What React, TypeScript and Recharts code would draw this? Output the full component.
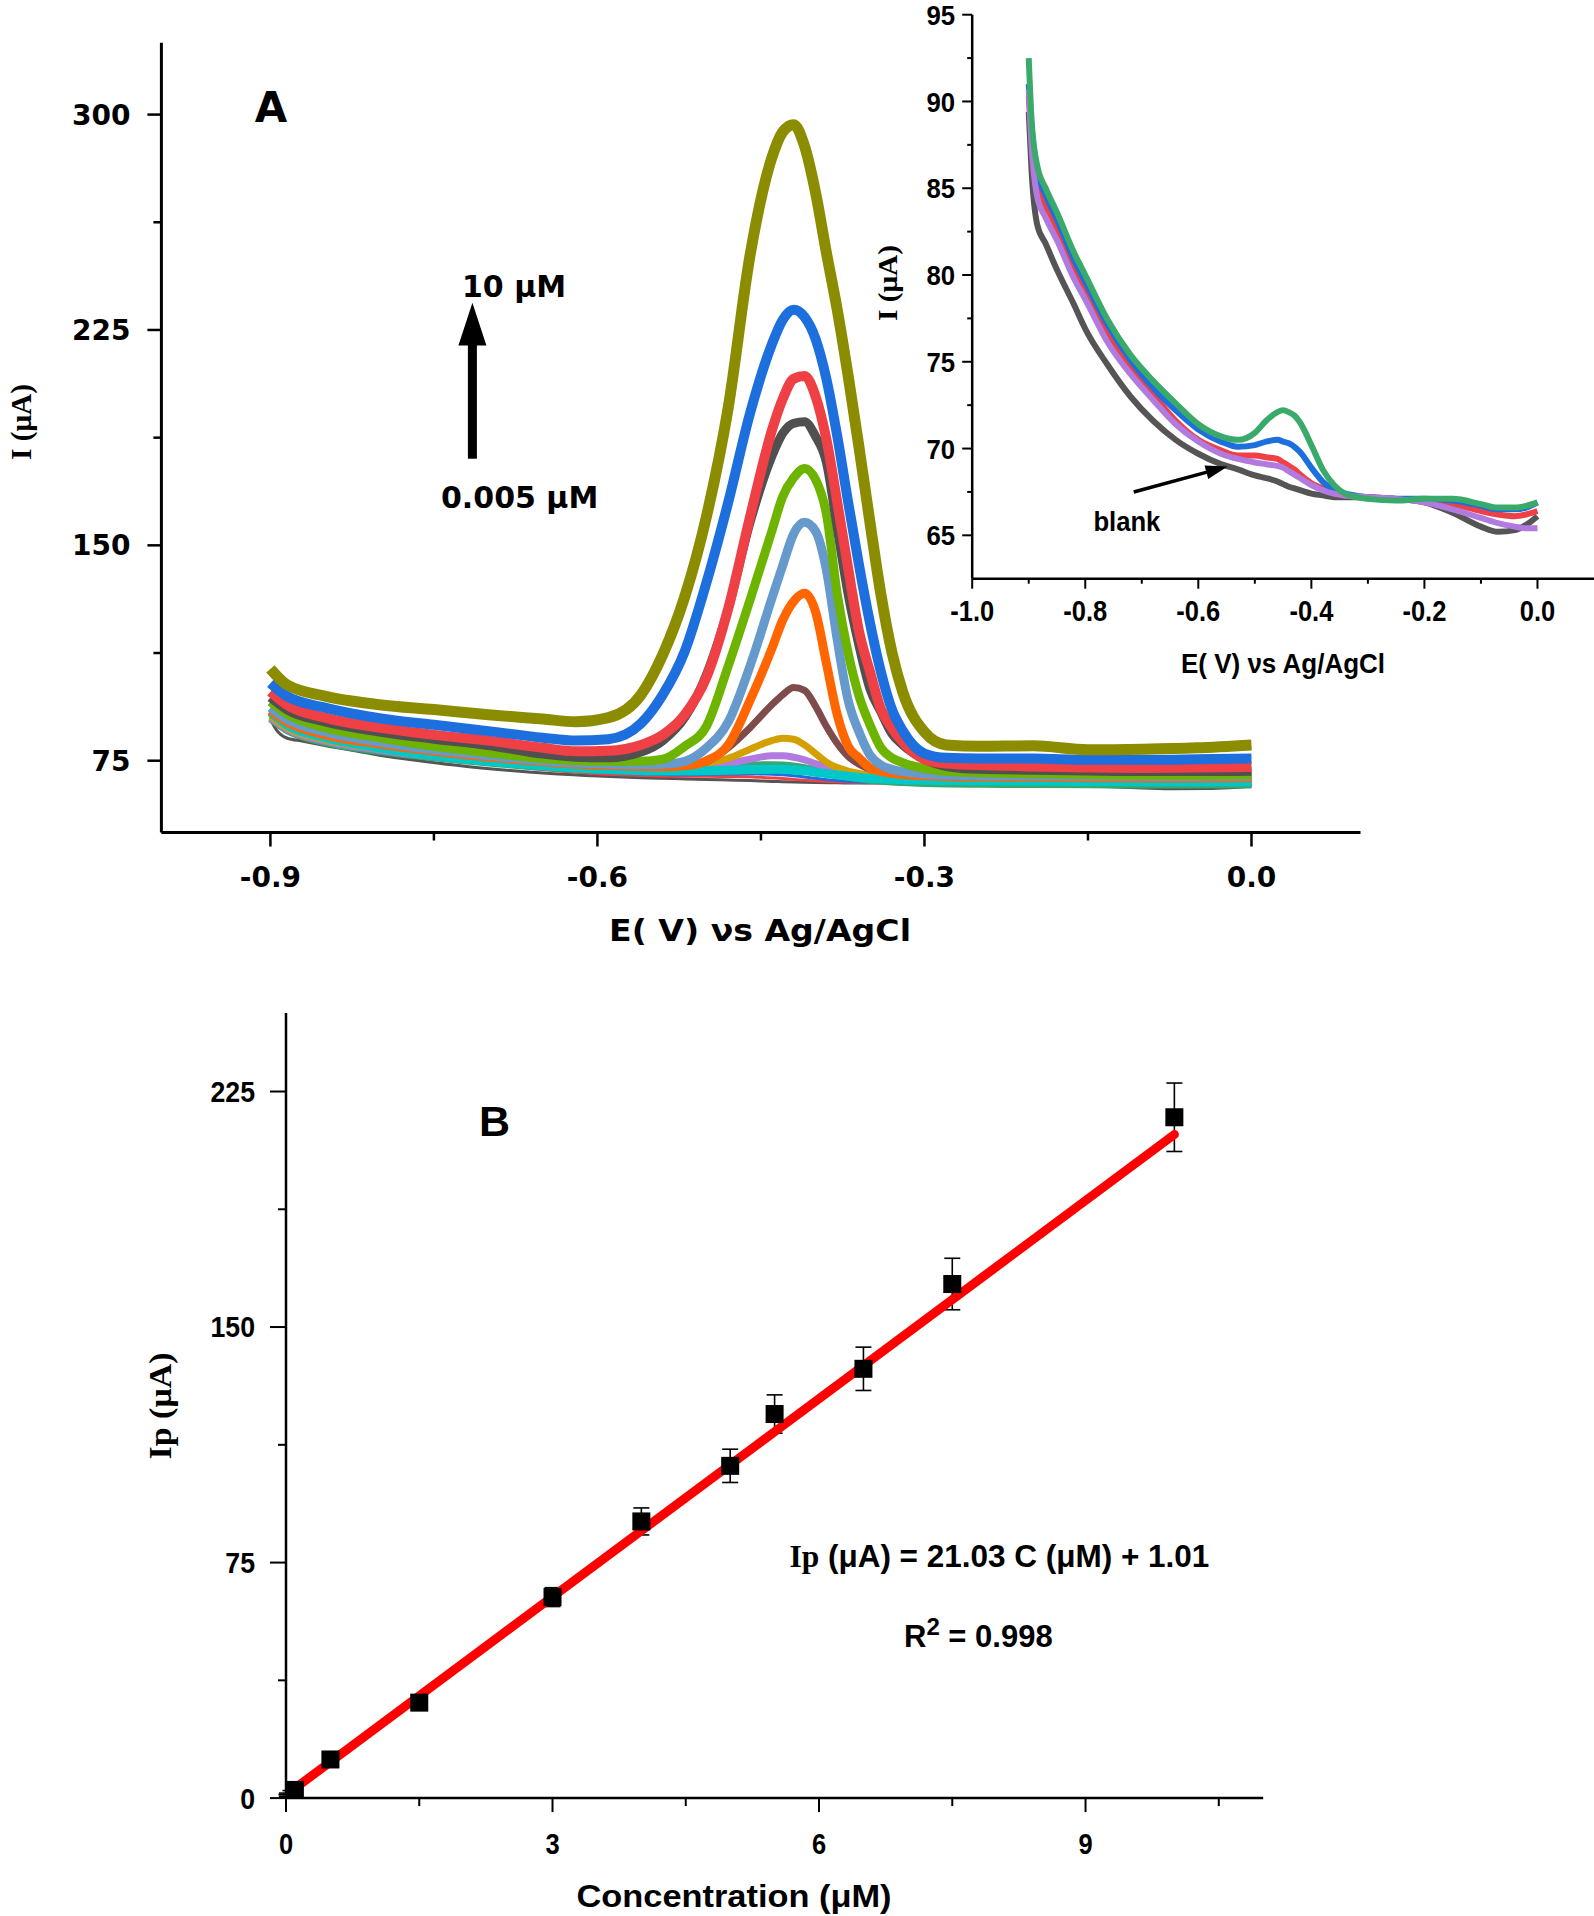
import React from "react";
import {
  LineChart,
  Line,
  XAxis,
  YAxis,
  ComposedChart,
  Scatter,
  ErrorBar,
} from "recharts";

// ---- panel A: main voltammograms (potential grid shared by the thick curves)
const E = [
  -0.9, -0.885, -0.85, -0.8, -0.75, -0.7, -0.65, -0.62, -0.59, -0.56, -0.54,
  -0.52, -0.5, -0.48, -0.46, -0.44, -0.43, -0.42, -0.41, -0.4, -0.39, -0.38,
  -0.37, -0.36, -0.35, -0.34, -0.33, -0.32, -0.3, -0.28, -0.25, -0.2, -0.15,
  -0.1, -0.05, 0,
];

const OLIVE = [107, 101.5, 97.5, 94.5, 92.8, 91, 89.5, 88.6, 90, 98, 112, 132, 160, 198, 251, 285, 294, 296.5, 289, 273, 252, 232, 209, 184, 158, 133, 113, 99, 85, 80.5, 80, 80.2, 78.8, 79, 79.5, 80.5];
const BLUE = [102, 97.5, 93.5, 89.8, 87.5, 85.3, 83, 82, 82.5, 88, 98, 113, 137, 165, 196, 220, 228.5, 232, 229.5, 222, 208, 188, 165, 143, 123, 106, 93, 85.5, 77.5, 76, 75.8, 75.8, 75.3, 75.3, 75.5, 75.8];
const RED = [99, 94.5, 90, 86.5, 84, 82, 79.5, 78.3, 78.5, 80.5, 84, 91, 104, 128, 160, 190, 201, 208, 209, 202, 187, 165, 142, 120, 106, 93, 86.5, 81.5, 75.5, 74, 73.5, 73, 72.6, 72.5, 72.6, 72.8];
const GRAY = [97, 92.8, 88.5, 85, 82.5, 80.3, 77.3, 76.2, 76, 78, 82, 90, 105, 128, 158, 181, 189, 192.5, 193, 188, 179, 156, 133, 115, 100, 92, 84.5, 80.5, 75.5, 73, 72, 71.7, 71.4, 71.2, 71.2, 71.3];
const GREEN = [95.5, 91.3, 86.5, 83, 80, 77.8, 75.8, 75.1, 74.8, 74.8, 75.5, 80, 87, 108, 131, 155, 167, 173.5, 176.8, 173, 161, 133, 112.5, 97.5, 87.5, 79.5, 76, 74.3, 72.3, 71.3, 70.8, 70.5, 70.2, 70, 70, 70.2];
const STEEL = [93.5, 89.5, 85, 81.5, 78.8, 76.8, 75, 74.2, 73.8, 73.6, 73.8, 74.8, 79.5, 88.5, 108, 131.5, 143, 154, 158, 155, 141.5, 117, 96, 85, 77, 73.5, 72, 71.2, 70.4, 70, 69.8, 69.7, 69.6, 69.5, 69.5, 69.6];
const ORANGE = [92.5, 88.5, 84, 80.8, 78.3, 76.3, 74.6, 73.8, 73.3, 73, 72.9, 73.2, 75, 80.5, 96, 114, 124, 130.5, 133.3, 127, 109, 91, 80, 76, 72.5, 71.3, 70.6, 70.2, 69.8, 69.5, 69.3, 69.2, 69.1, 69, 69, 69.1];
const BROWN = [91.5, 87.5, 83, 79.8, 77.4, 75.4, 73.8, 73, 72.5, 72.2, 72.2, 72.8, 74.5, 79.5, 86.5, 94.5, 98, 100.5, 99.5, 94, 87, 81, 76.5, 73.8, 72, 71, 70.3, 69.8, 69.2, 68.9, 68.7, 68.6, 68.5, 68.5, 68.5, 68.6];
const GOLD = [90.5, 86.5, 82.3, 79.2, 76.9, 75, 73.5, 72.8, 72.4, 72.4, 72.6, 73.2, 74.2, 75.8, 79, 82, 82.8, 82.5, 80.5, 77.5, 74.5, 72.6, 71.4, 70.6, 70, 69.6, 69.3, 69, 68.7, 68.5, 68.3, 68.2, 68.1, 68.1, 68.1, 68.2];
const LAVENDER = [90, 86, 81.8, 78.7, 76.4, 74.6, 73.1, 72.4, 72, 71.9, 72, 72.4, 73, 74, 75.5, 76.7, 76.7, 76.2, 75.3, 74, 72.8, 71.6, 70.7, 70, 69.5, 69.1, 68.8, 68.6, 68.3, 68.1, 67.9, 67.8, 67.7, 67.7, 67.7, 67.8];
const TEAL = [89.5, 85.5, 81.3, 78.2, 76, 74.2, 72.7, 72, 71.6, 71.5, 71.5, 71.8, 72.3, 72.9, 73.4, 73.6, 73.5, 73.2, 72.6, 71.8, 70.9, 70, 69.3, 68.7, 68.2, 67.9, 67.6, 67.4, 67.1, 66.9, 66.8, 66.7, 66.6, 66.5, 66.5, 66.5];
const CYAN = [92, 87.5, 83, 79.5, 76.8, 74.8, 73.3, 72.5, 71.9, 71.5, 71.4, 71.4, 71.5, 71.7, 71.9, 72, 72, 71.8, 71.5, 71, 70.5, 70, 69.6, 69.2, 68.9, 68.7, 68.5, 68.4, 68.2, 68.1, 68, 67.9, 67.8, 67.7, 67.7, 67.7];

// ---- inset: lowest concentrations
const EI = [
  -0.9, -0.895, -0.885, -0.87, -0.85, -0.82, -0.8, -0.76, -0.72, -0.68, -0.64,
  -0.6, -0.56, -0.53, -0.5, -0.48, -0.46, -0.45, -0.44, -0.43, -0.42, -0.4,
  -0.38, -0.36, -0.34, -0.3, -0.25, -0.2, -0.15, -0.1, -0.07, -0.04, -0.02, 0,
];
const IN_GREEN = [92.5, 89, 86.3, 85, 83.6, 81.3, 80, 77.4, 75.4, 73.9, 72.6, 71.4, 70.7, 70.5, 70.9, 71.6, 72.1, 72.2, 72.1, 71.9, 71.5, 70.2, 68.8, 67.9, 67.4, 67.1, 67, 67.1, 67.1, 66.8, 66.6, 66.6, 66.7, 66.9];
const IN_BLUE = [91, 88.5, 86, 84.6, 83.2, 80.9, 79.6, 77.1, 75.1, 73.5, 72.2, 71.1, 70.4, 70.1, 70.2, 70.4, 70.5, 70.4, 70.3, 70.1, 69.8, 68.9, 68.1, 67.6, 67.4, 67.2, 67.1, 67.1, 67, 66.7, 66.5, 66.5, 66.6, 66.9];
const IN_RED = [90.3, 88, 85.5, 84, 82.6, 80.3, 79.1, 76.6, 74.6, 73.1, 71.6, 70.5, 69.9, 69.6, 69.6, 69.5, 69.4, 69.2, 69, 68.8, 68.5, 68, 67.7, 67.4, 67.3, 67.2, 67.1, 67, 66.8, 66.4, 66.2, 66.1, 66.2, 66.4];
const IN_PURPLE = [90.7, 87.5, 84.5, 83.3, 82, 79.8, 78.6, 76.1, 74.3, 72.8, 71.4, 70.4, 69.7, 69.4, 69.2, 69.1, 69, 68.9, 68.7, 68.5, 68.3, 67.9, 67.6, 67.4, 67.3, 67.2, 67.1, 66.9, 66.5, 66, 65.7, 65.5, 65.4, 65.4];
const IN_BLANK = [89.4, 86, 82.9, 81.8, 80.3, 78.3, 76.9, 74.8, 73, 71.6, 70.5, 69.7, 69.1, 68.8, 68.45, 68.3, 68.1, 67.95, 67.8, 67.7, 67.6, 67.4, 67.3, 67.2, 67.2, 67.2, 67.1, 66.9, 66.3, 65.5, 65.2, 65.3, 65.6, 66.1];

// ---- panel B: calibration
const CONC = [0.005, 0.01, 0.05, 0.1, 0.5, 1.5, 3, 4, 5, 5.5, 6.5, 7.5, 10];
const IP = [0.6, 1.1, 1.8, 2.6, 12.3, 30.4, 64, 88.1, 105.8, 122.3, 136.7, 163.7, 216.8];
const IP_ERR = [0.5, 0.5, 0.6, 0.6, 1.2, 1.5, 3, 4.3, 5.3, 6.1, 6.9, 8.2, 10.9];
const FIT_C = [0, 10];
const FIT_IP = [1.01, 211.31];

// ---- ticks
const A_X_TICKS = [-0.9, -0.75, -0.6, -0.45, -0.3, -0.15, 0];
const A_X_MAJOR = [-0.9, -0.6, -0.3, 0];
const A_Y_TICKS = [75, 112.5, 150, 187.5, 225, 262.5, 300];
const A_Y_MAJOR = [75, 150, 225, 300];
const IN_X_TICKS = [-1, -0.9, -0.8, -0.7, -0.6, -0.5, -0.4, -0.3, -0.2, -0.1, 0];
const IN_X_MAJOR = [-1, -0.8, -0.6, -0.4, -0.2, 0];
const IN_Y_TICKS = [65, 67.5, 70, 72.5, 75, 77.5, 80, 82.5, 85, 87.5, 90, 92.5, 95];
const IN_Y_MAJOR = [65, 70, 75, 80, 85, 90, 95];
const B_X_TICKS = [0, 1.5, 3, 4.5, 6, 7.5, 9, 10.5];
const B_X_MAJOR = [0, 3, 6, 9];
const B_Y_TICKS = [0, 37.5, 75, 112.5, 150, 187.5, 225];
const B_Y_MAJOR = [0, 75, 150, 225];

const WIDE = "'DejaVu Sans', Verdana, sans-serif";
const NARROW = "'Liberation Sans Narrow', 'Arial Narrow', 'Liberation Sans', Arial, sans-serif";
const ARIAL = "'Liberation Sans', Arial, sans-serif";
const SERIF = "'Liberation Serif', 'Times New Roman', serif";

const pts = (xs: number[], ys: number[]) => xs.map((x, i) => ({ x, y: ys[i] }));

const MAIN_SERIES = [
  { data: pts(EI, IN_BLANK), color: "#555555", w: 3 },
  { data: pts(EI, IN_RED), color: "#ef4046", w: 3 },
  { data: pts(EI, IN_BLUE), color: "#1c6fdc", w: 3 },
  { data: pts(E, TEAL), color: "#33aa70", w: 7 },
  { data: pts(E, LAVENDER), color: "#b07adf", w: 7 },
  { data: pts(E, GOLD), color: "#d4a000", w: 7 },
  { data: pts(E, BROWN), color: "#7f4c4c", w: 7 },
  { data: pts(E, CYAN), color: "#00c8c8", w: 9 },
  { data: pts(E, ORANGE), color: "#ff6600", w: 9 },
  { data: pts(E, STEEL), color: "#6699cc", w: 9 },
  { data: pts(E, GREEN), color: "#6cb400", w: 9 },
  { data: pts(E, GRAY), color: "#505050", w: 9 },
  { data: pts(E, RED), color: "#ef4046", w: 10 },
  { data: pts(E, BLUE), color: "#1c6fdc", w: 10 },
  { data: pts(E, OLIVE), color: "#8c8c00", w: 11 },
];

const INSET_SERIES = [
  { data: pts(EI, IN_BLANK), color: "#555555" },
  { data: pts(EI, IN_RED), color: "#ef4046" },
  { data: pts(EI, IN_BLUE), color: "#1c6fdc" },
  { data: pts(EI, IN_PURPLE), color: "#b07adf" },
  { data: pts(EI, IN_GREEN), color: "#3aaa6a" },
];

// rough Arial advance widths, used to squeeze labels into a narrow face
const arialWidth = (s: string) =>
  s.split("").reduce((a, ch) => a + (ch === "." ? 0.278 : ch === "-" ? 0.333 : 0.556), 0);

type TickCfg = {
  side: "bottom" | "left";
  majors: number[];
  majorLen: number;
  minorLen: number;
  gap: number;
  size: number;
  font: string;
  digits: number;
  sw: number;
  squeeze?: number;
};

const tickFor = (c: TickCfg) => (props: any) => {
  const { x, y, payload } = props;
  const v = Number(payload.value);
  const major = c.majors.some((m) => Math.abs(m - v) < 1e-9);
  const len = major ? c.majorLen : c.minorLen;
  const label = major ? v.toFixed(c.digits) : "";
  const txt: any = {
    fontSize: c.size,
    fontFamily: c.font,
    fontWeight: "bold",
    fill: "#000",
  };
  if (c.squeeze && label) {
    txt.textLength = arialWidth(label) * c.size * c.squeeze;
    txt.lengthAdjust = "spacingAndGlyphs";
  }
  if (c.side === "bottom") {
    return (
      <g>
        <line x1={x} y1={y} x2={x} y2={y + len} stroke="#000" strokeWidth={c.sw} />
        {label && (
          <text x={x} y={y + c.gap} textAnchor="middle" {...txt}>
            {label}
          </text>
        )}
      </g>
    );
  }
  return (
    <g>
      <line x1={x - len} y1={y} x2={x} y2={y} stroke="#000" strokeWidth={c.sw} />
      {label && (
        <text x={x - c.gap} y={y + c.size * 0.36} textAnchor="end" {...txt}>
          {label}
        </text>
      )}
    </g>
  );
};

function PanelA() {
  return (
    <LineChart width={1400} height={900} margin={{ top: 42.8, right: 39.5, bottom: 17.5, left: 61.4 }}>
      <XAxis
        type="number"
        dataKey="x"
        domain={[-1, 0.1]}
        allowDataOverflow
        ticks={A_X_TICKS}
        interval={0}
        height={50}
        tickSize={0}
        tickMargin={0}
        tickLine={false}
        axisLine={{ stroke: "#000", strokeWidth: 3 }}
        tick={tickFor({ side: "bottom", majors: A_X_MAJOR, majorLen: 14, minorLen: 8, gap: 54, size: 28, font: WIDE, digits: 1, sw: 2.5 })}
      />
      <YAxis
        type="number"
        domain={[50, 325]}
        allowDataOverflow
        ticks={A_Y_TICKS}
        interval={0}
        width={100}
        tickSize={0}
        tickMargin={0}
        tickLine={false}
        axisLine={{ stroke: "#000", strokeWidth: 3 }}
        tick={tickFor({ side: "left", majors: A_Y_MAJOR, majorLen: 14, minorLen: 8, gap: 31, size: 28, font: WIDE, digits: 0, sw: 2.5 })}
      />
      {MAIN_SERIES.map((s, i) => (
        <Line
          key={`main-${i}`}
          data={s.data}
          dataKey="y"
          type="monotone"
          stroke={s.color}
          strokeWidth={s.w}
          dot={false}
          activeDot={false}
          isAnimationActive={false}
        />
      ))}
    </LineChart>
  );
}

function Inset() {
  return (
    <LineChart width={722} height={700} margin={{ top: 14.7, right: 0, bottom: 81.3, left: 40.2 }}>
      <XAxis
        type="number"
        dataKey="x"
        domain={[-1, 0.1]}
        allowDataOverflow
        ticks={IN_X_TICKS}
        interval={0}
        height={40}
        tickSize={0}
        tickMargin={0}
        tickLine={false}
        axisLine={{ stroke: "#000", strokeWidth: 2.5 }}
        tick={tickFor({ side: "bottom", majors: IN_X_MAJOR, majorLen: 10, minorLen: 5, gap: 42, size: 30, font: NARROW, digits: 1, sw: 2, squeeze: 0.85 })}
      />
      <YAxis
        type="number"
        domain={[62.5, 95]}
        allowDataOverflow
        ticks={IN_Y_TICKS}
        interval={0}
        width={60}
        tickSize={0}
        tickMargin={0}
        tickLine={false}
        axisLine={{ stroke: "#000", strokeWidth: 2.5 }}
        tick={tickFor({ side: "left", majors: IN_Y_MAJOR, majorLen: 10, minorLen: 5, gap: 17, size: 28, font: NARROW, digits: 0, sw: 2, squeeze: 0.92 })}
      />
      {INSET_SERIES.map((s, i) => (
        <Line
          key={`in-${i}`}
          data={s.data}
          dataKey="y"
          type="monotone"
          stroke={s.color}
          strokeWidth={6}
          dot={false}
          activeDot={false}
          isAnimationActive={false}
        />
      ))}
    </LineChart>
  );
}

const calib = CONC.map((c, i) => ({ x: c, y: IP[i], err: IP_ERR[i] }));
const fit = pts(FIT_C, FIT_IP);

function PanelB() {
  return (
    <ComposedChart width={1300} height={936} margin={{ top: 33, right: 36.8, bottom: 37.9, left: 186 }}>
      <XAxis
        type="number"
        dataKey="x"
        domain={[0, 11]}
        allowDataOverflow
        ticks={B_X_TICKS}
        interval={0}
        height={80}
        tickSize={0}
        tickMargin={0}
        tickLine={false}
        axisLine={{ stroke: "#000", strokeWidth: 2.5 }}
        tick={tickFor({ side: "bottom", majors: B_X_MAJOR, majorLen: 14, minorLen: 8, gap: 55.5, size: 29, font: NARROW, digits: 0, sw: 2, squeeze: 0.88 })}
      />
      <YAxis
        type="number"
        dataKey="y"
        domain={[0, 250]}
        allowDataOverflow
        ticks={B_Y_TICKS}
        interval={0}
        width={100}
        tickSize={0}
        tickMargin={0}
        tickLine={false}
        axisLine={{ stroke: "#000", strokeWidth: 2.5 }}
        tick={tickFor({ side: "left", majors: B_Y_MAJOR, majorLen: 16, minorLen: 8, gap: 31, size: 29, font: NARROW, digits: 0, sw: 2, squeeze: 0.92 })}
      />
      <Scatter
        data={calib}
        dataKey="y"
        isAnimationActive={false}
        shape={(p: any) => <rect x={p.cx - 9} y={p.cy - 9} width={18} height={18} fill="#000" />}
      >
        <ErrorBar dataKey="err" direction="y" width={8} stroke="#000" strokeWidth={1.6} />
      </Scatter>
      <Line
        data={fit}
        dataKey="y"
        type="linear"
        stroke="#ff0000"
        strokeWidth={9}
        strokeLinecap="round"
        dot={false}
        activeDot={false}
        isAnimationActive={false}
      />
    </ComposedChart>
  );
}

function Overlay() {
  const bold = { fontWeight: "bold" as const, fill: "#000" };
  return (
    <svg width={1594} height={1916} style={{ position: "absolute", left: 0, top: 0, pointerEvents: "none" }}>
      {/* panel A annotations */}
      <text x={271} y={122} textAnchor="middle" fontFamily={WIDE} fontSize={42} {...bold}>A</text>
      <rect x={467.9} y={340} width={9} height={118.7} fill="#000" />
      <polygon points="472.4,302.7 458.4,345.6 486.4,345.6" fill="#000" />
      <text x={462} y={297} fontFamily={WIDE} fontSize={30} {...bold}>10 μM</text>
      <text x={441} y={507.6} fontFamily={WIDE} fontSize={30} {...bold}>0.005 μM</text>
      <text x={760} y={940.7} textAnchor="middle" fontFamily={WIDE} fontSize={30} textLength={302} lengthAdjust="spacingAndGlyphs" {...bold}>
        E( V) νs Ag/AgCl
      </text>
      <text x={31} y={422} transform="rotate(-90 31 422)" textAnchor="middle" fontFamily={SERIF} fontSize={29} textLength={76} lengthAdjust="spacingAndGlyphs" {...bold}>
        I (μA)
      </text>

      {/* inset annotations */}
      <text x={1283} y={673} textAnchor="middle" fontFamily={NARROW} fontSize={28} textLength={204} lengthAdjust="spacingAndGlyphs" {...bold}>
        E( V) νs Ag/AgCl
      </text>
      <text x={897} y={283} transform="rotate(-90 897 283)" textAnchor="middle" fontFamily={SERIF} fontSize={27} textLength={76} lengthAdjust="spacingAndGlyphs" {...bold}>
        I (μA)
      </text>
      <text x={1093.4} y={531} fontFamily={NARROW} fontSize={28} textLength={67} lengthAdjust="spacingAndGlyphs" {...bold}>
        blank
      </text>
      <line x1={1133.7} y1={492} x2={1207} y2={472.1} stroke="#000" strokeWidth={3.5} />
      <polygon points="1227.6,466.5 1208.2,479.1 1204.6,465.5" fill="#000" />

      {/* panel B annotations */}
      <text x={494.6} y={1136} textAnchor="middle" fontFamily={ARIAL} fontSize={43} {...bold}>B</text>
      <text x={734} y={1907} textAnchor="middle" fontFamily={NARROW} fontSize={32} textLength={315} lengthAdjust="spacingAndGlyphs" {...bold}>
        Concentration (μM)
      </text>
      <text x={171} y={1406} transform="rotate(-90 171 1406)" textAnchor="middle" fontFamily={SERIF} fontSize={32} textLength={107} lengthAdjust="spacingAndGlyphs" {...bold}>
        Ip (μA)
      </text>
      <text x={789.4} y={1567} fontFamily={NARROW} fontSize={31} textLength={420} lengthAdjust="spacingAndGlyphs" {...bold}>
        <tspan fontFamily={SERIF}>Ip</tspan> (μA) = 21.03 C (μM) + 1.01
      </text>
      <text x={904} y={1647} fontFamily={NARROW} fontSize={31} {...bold}>
        R<tspan dy={-12} fontSize={24}>2</tspan>
        <tspan dy={12}> = 0.998</tspan>
      </text>
    </svg>
  );
}

export default function App() {
  return (
    <div style={{ position: "absolute", left: 0, top: 0, width: 1594, height: 1916, background: "#fff" }}>
      <div style={{ position: "absolute", left: 0, top: 0 }}>
        <PanelA />
      </div>
      <div style={{ position: "absolute", left: 872, top: 0 }}>
        <Inset />
      </div>
      <div style={{ position: "absolute", left: 0, top: 980 }}>
        <PanelB />
      </div>
      <Overlay />
    </div>
  );
}
